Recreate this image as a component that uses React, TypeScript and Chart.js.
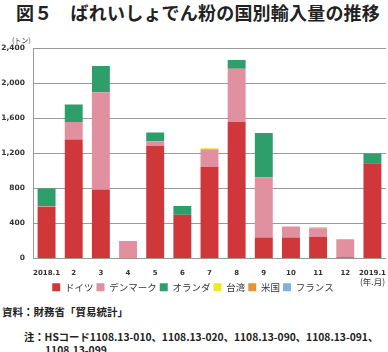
import React, { useEffect, useRef } from "react";
import { Chart, registerables } from "chart.js";

Chart.register(...registerables);

const categories = ["2018.1", "2", "3", "4", "5", "6", "7", "8", "9", "10", "11", "12", "2019.1"];
const germany = [590, 1360, 790, 0, 1290, 500, 1050, 1560, 240, 240, 250, 15, 1090];
const denmark = [10, 200, 1110, 200, 50, 0, 200, 610, 690, 125, 95, 205, 0];
const netherlands = [200, 200, 300, 0, 100, 100, 0, 100, 505, 0, 0, 0, 110];
const taiwan = [0, 0, 0, 0, 0, 0, 10, 0, 0, 0, 0, 0, 0];
const usa = [0, 0, 0, 0, 0, 0, 0, 0, 0, 0, 8, 0, 0];
const france = [0, 0, 0, 0, 0, 0, 0, 0, 0, 0, 0, 0, 0];
const seriesNames = ["ドイツ", "デンマーク", "オランダ", "台湾", "米国", "フランス"];
const yTicks = [0, 400, 800, 1200, 1600, 2000, 2400];

const colors = ["#d0373a", "#e0909f", "#2e9f6a", "#f0e823", "#e0982e", "#7fb2e0"];

const JP = "'Noto Sans CJK JP', 'Noto Sans', sans-serif";

export default function App() {
  const ref = useRef<HTMLCanvasElement | null>(null);
  useEffect(() => {
    if (!ref.current) return;
    const data = [germany, denmark, netherlands, taiwan, usa, france];
    const chart = new Chart(ref.current, {
      type: "bar",
      data: {
        labels: categories,
        datasets: data.map((d, i) => ({
          label: seriesNames[i],
          data: d,
          backgroundColor: colors[i],
          borderWidth: 0,
          categoryPercentage: 1,
          barPercentage: 0.66,
        })),
      },
      options: {
        animation: false,
        responsive: false,
        maintainAspectRatio: false,
        layout: { padding: { top: 7, right: 2, left: 0, bottom: 0 } },
        plugins: {
          legend: {
            position: "bottom",
            labels: {
              boxWidth: 8,
              boxHeight: 8,
              padding: 3,
              color: "#333",
              font: { family: JP, size: 9.5 },
            },
          },
          tooltip: { enabled: false },
        },
        scales: {
          x: {
            stacked: true,
            grid: { display: false },
            border: { display: true, color: "#999" },
            ticks: {
              color: "#333",
              font: { family: "'DejaVu Sans', sans-serif", size: 7, weight: "bold" },
              maxRotation: 0,
              autoSkip: false,
              padding: 2,
            },
            afterFit: (s: any) => {
              s.height = 21;
            },
          },
          y: {
            stacked: true,
            min: 0,
            max: 2400,
            afterBuildTicks: (s: any) => {
              s.ticks = yTicks.map((v) => ({ value: v }));
            },
            grid: { color: "#999", lineWidth: 1, drawTicks: false },
            border: { display: true, color: "#999" },
            ticks: {
              color: "#333",
              padding: 8,
              font: { family: "'DejaVu Sans', sans-serif", size: 7.5, weight: "bold" },
              callback: (v: any) => Number(v).toLocaleString("en-US"),
            },
            afterFit: (s: any) => {
              s.width = 33;
            },
          },
        },
      },
    });
    return () => chart.destroy();
  }, []);

  return (
    <div
      style={{
        position: "fixed",
        left: 0,
        top: 0,
        width: 388,
        height: 352,
        background: "#fff",
        fontFamily: JP,
        color: "#222",
        overflow: "hidden",
      }}
    >
      <div
        style={{
          position: "absolute",
          left: 16,
          top: -1,
          fontSize: 18,
          fontWeight: "bold",
          letterSpacing: 0.2,
          whiteSpace: "nowrap",
          color: "#222",
        }}
      >
        図５　ばれいしょでん粉の国別輸入量の推移
      </div>
      <div style={{ position: "absolute", left: 12, top: 35, fontSize: 7, color: "#333" }}>
        (トン)
      </div>
      <canvas
        ref={ref}
        width={388}
        height={266}
        style={{ position: "absolute", left: 0, top: 36, width: 388, height: 266 }}
      />
      <div style={{ position: "absolute", left: 360, top: 275, fontSize: 8.5, color: "#333" }}>
        (年.月)
      </div>
      <div
        style={{
          position: "absolute",
          left: 2,
          top: 305,
          fontSize: 10.5,
          fontWeight: "bold",
          whiteSpace: "nowrap",
          lineHeight: "14px",
        }}
      >
        資料：財務省「貿易統計」
      </div>
      <div
        style={{
          position: "absolute",
          left: 24,
          top: 330,
          fontSize: 10.3,
          fontWeight: "bold",
          whiteSpace: "nowrap",
          lineHeight: "14px",
        }}
      >
        注：HSコード1108.13-010、1108.13-020、1108.13-090、1108.13-091、
      </div>
      <div
        style={{
          position: "absolute",
          left: 45,
          top: 343,
          fontSize: 10.3,
          fontWeight: "bold",
          whiteSpace: "nowrap",
          lineHeight: "14px",
        }}
      >
        1108.13-099
      </div>
    </div>
  );
}
